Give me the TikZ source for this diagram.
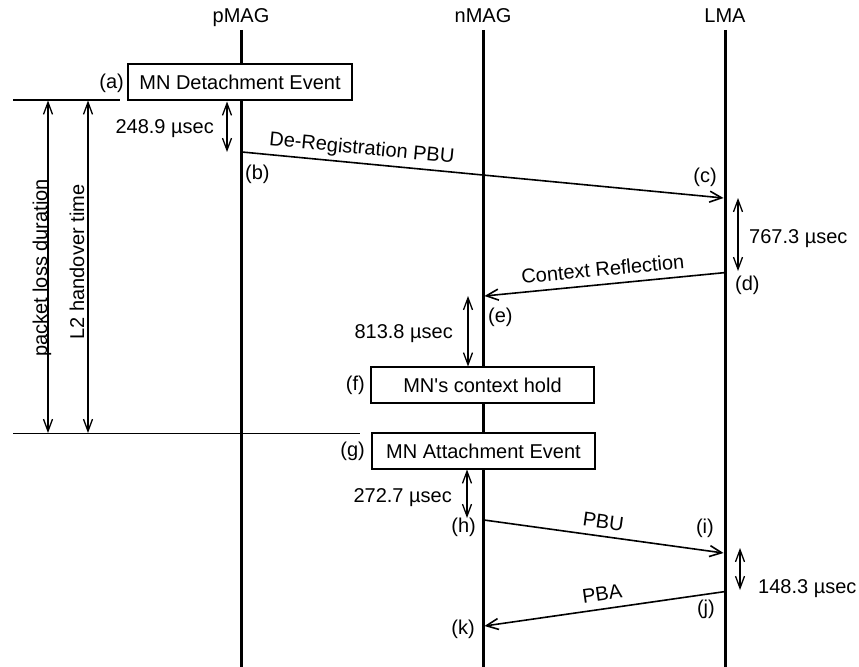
\documentclass[tikz,border=0pt]{standalone}
\usepackage{fontspec}
\setmainfont{Liberation Sans}
\usetikzlibrary{arrows.meta}
\begin{document}
\begin{tikzpicture}[x=1bp,y=-1bp,
  font=\fontsize{20bp}{24bp}\selectfont,
  life/.style={line width=3bp},
  msg/.style={line width=1.6bp,-{Straight Barb[length=12bp,width=11bp,line width=1.6bp]}},
  dur/.style={line width=1.3bp,{Straight Barb[length=12bp,width=9bp]}-{Straight Barb[length=12bp,width=9bp]}},
  sepline/.style={line width=1.5bp},
  evbox/.style={draw,line width=1.3bp,minimum width=224bp,minimum height=36bp,inner sep=0pt,fill=white},
  tag/.style={inner sep=0pt},
  msglabel/.style={sloped,anchor=south,inner sep=4bp,text height=14.5bp,text depth=4.2bp}
]
\useasboundingbox (0,0) rectangle (859,667);

% headers and lifelines
\node[anchor=base,tag] (hp) at (241,23) {pMAG};
\node[anchor=base,tag] (hn) at (483,23) {nMAG};
\node[anchor=base,tag] (hl) at (725,23) {LMA};
\coordinate (pt) at (241,30); \coordinate (pb) at (241,667);
\coordinate (nt) at (483,30); \coordinate (nb) at (483,667);
\coordinate (lt) at (725,30); \coordinate (lb) at (725,667);
\draw[life] (pt) -- (pb);
\draw[life] (nt) -- (nb);
\draw[life] (lt) -- (lb);

% event boxes
\node[evbox] (boxa) at (240,82) {MN Detachment Event};
\node[evbox,minimum width=223bp] (boxf) at (482.5,385) {MN\textquotesingle s context hold};
\node[evbox,minimum width=223bp] (boxg) at (483.5,451) {MN Attachment Event};

% separator lines and left-side spans
\coordinate (s1a) at (13,100); \coordinate (s1b) at (120,100);
\coordinate (s2a) at (13,433.5); \coordinate (s2b) at (360,433.5);
\draw[sepline] (s1a) -- (s1b);
\draw[sepline] (s2a) -- (s2b);
\coordinate (pl1) at (48,100.5); \coordinate (pl2) at (48,433);
\coordinate (ho1) at (88,100.5); \coordinate (ho2) at (88,433);
\draw[dur] (pl1) -- (pl2);
\draw[dur] (ho1) -- (ho2);
\node[rotate=90,anchor=base,tag] (pld) at (47,268) {packet loss duration};
\node[rotate=90,anchor=base,tag] (l2h) at (84,262) {L2 handover time};

% messages
\coordinate (b0) at (242,152); \coordinate (c0) at (723.5,198);
\draw[msg] (b0) -- node[msglabel,pos=0.246] {De-Registration PBU} (c0);
\coordinate (d0) at (724,272.7); \coordinate (e0) at (484.5,296);
\draw[msg] (d0) -- (e0);
\path (e0) -- node[msglabel,pos=0.5] {Context Reflection} (d0);
\coordinate (h0) at (484,520); \coordinate (i0) at (723.5,553);
\draw[msg] (h0) -- node[msglabel,pos=0.49,inner sep=2.5bp] {PBU} (i0);
\coordinate (j0) at (724,591.7); \coordinate (k0) at (484.5,626);
\draw[msg] (j0) -- (k0);
\path (k0) -- node[msglabel,pos=0.5] {PBA} (j0);

% durations
\coordinate (u1) at (227,101.5); \coordinate (u2) at (227,152);
\draw[dur] (u1) -- (u2);
\node[anchor=base east,tag] (t1) at (214,134) {248.9 µsec};
\coordinate (v1) at (738,198); \coordinate (v2) at (738,271);
\draw[dur] (v1) -- (v2);
\node[anchor=base west,tag] (t2) at (749,243) {767.3 µsec};
\coordinate (w1) at (468,296); \coordinate (w2) at (468,366.5);
\draw[dur] (w1) -- (w2);
\node[anchor=base east,tag] (t3) at (453,338) {813.8 µsec};
\coordinate (x1) at (467,469.5); \coordinate (x2) at (467,518);
\draw[dur] (x1) -- (x2);
\node[anchor=base east,tag] (t4) at (452,502) {272.7 µsec};
\coordinate (y1) at (740,548); \coordinate (y2) at (740,590);
\draw[dur] (y1) -- (y2);
\node[anchor=base west,tag] (t5) at (758,593) {148.3 µsec};

% step labels
\node[anchor=east,tag] (la) at (124,83) {(a)};
\node[anchor=west,tag] (lbb) at (245,174) {(b)};
\node[anchor=east,tag] (lc) at (717,177) {(c)};
\node[anchor=west,tag] (ld) at (735,285) {(d)};
\node[anchor=west,tag] (le) at (488,317) {(e)};
\node[anchor=east,tag] (lf) at (365,385) {(f)};
\node[anchor=east,tag] (lg) at (365,451) {(g)};
\node[anchor=east,tag] (lh) at (476,527) {(h)};
\node[anchor=east,tag] (li) at (714,528) {(i)};
\node[anchor=east,tag] (lj) at (715,609) {(j)};
\node[anchor=east,tag] (lk) at (475,629) {(k)};
\end{tikzpicture}
\end{document}
